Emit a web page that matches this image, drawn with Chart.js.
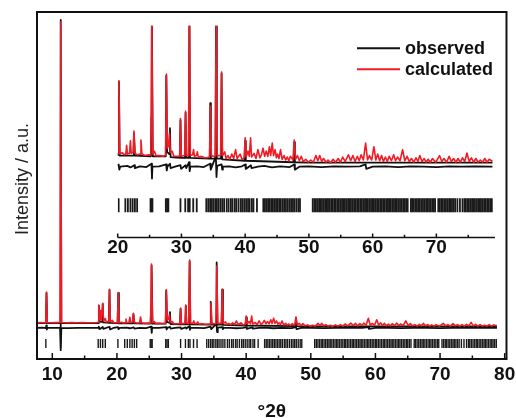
<!DOCTYPE html>
<html lang="en">
<head>
<meta charset="UTF-8">
<title>XRD pattern - observed / calculated</title>
<script src="https://cdn.jsdelivr.net/npm/chart.js"></script>
<style>
  body { margin: 0; background: #fff; }
  #wrap { position: relative; width: 516px; height: 418px; }
  #wrap canvas { position: absolute; left: 0; top: 0; }
</style>
</head>
<body>
<div id="wrap">
  <canvas id="mainChart" width="516" height="418"></canvas>
  <canvas id="insetChart" width="516" height="418"></canvas>
</div>
<script>
const FONT = '"Liberation Sans", Arial, sans-serif';

// tick labels
const mainTicks = [10, 20, 30, 40, 50, 60, 70, 80];
const mainMinor = [15, 25, 35, 45, 55, 65, 75];
const insetTicks = [20, 30, 40, 50, 60, 70];
const insetMinor = [25, 35, 45, 55, 65, 75];

// calculated pattern [2theta, intensity]
const calculated = [
  [7.63,1.2],[8.2,1.3],[8.6,1.2],[8.98,1.25],[9.1,11.3],[9.22,1.3],[9.8,1.2],[10.5,1.25],
  [11.18,1.3],[11.3,100],[11.42,1.3],[12.2,1.2],[13,1.25],[13.8,1.2],[14.6,1.25],[15.4,1.2],[16.2,1.2],[16.9,1.3],
  [17.1,1.4],[17.2,7.0],[17.32,2.2],[17.45,5.2],[17.55,2.0],[17.8,7.6],[17.92,1.8],[18.2,2.6],[18.35,1.4],
  [18.6,1.6],[18.75,1.5],[18.85,12.2],[18.97,1.6],[19.3,2.0],[19.5,1.3],[19.9,1.2],[20.08,1.3],[20.2,11.1],
  [20.32,1.2],[20.7,1.4],[21.0,1.1],[21.28,1.2],[21.4,2.4],[21.52,1.2],[21.85,1.3],[22.0,3.0],[22.12,1.3],
  [22.4,1.4],[22.55,4.3],[22.7,1.3],[23.1,1.1],[23.5,1.2],[23.65,3.1],[23.8,1.2],[24.3,1.0],[24.8,1.1],
  [25.2,1.1],[25.35,20.5],[25.5,1.2],[25.75,1.6],[26.0,1.0],[26.6,1.0],[27.1,0.9],[27.5,1.0],[27.65,12.0],
  [27.8,2.0],[28.0,2.4],[28.12,4.0],[28.25,1.4],[28.55,1.6],[28.8,0.9],[29.3,0.9],[29.72,0.9],[29.85,6.0],
  [29.98,0.9],[30.5,1.0],[30.65,7.0],[30.78,1.0],[31.1,1.0],[31.25,21.8],[31.4,1.0],[31.75,1.1],[31.9,1.8],
  [32.05,0.9],[32.35,1.0],[32.5,1.5],[32.65,0.8],[33.2,0.9],[33.6,0.7],[34.0,0.7],[34.4,0.8],[34.55,7.7],
  [34.7,1.0],[35.0,0.9],[35.3,0.9],[35.45,19.8],[35.6,1.0],[36.15,1.0],[36.3,12.3],[36.45,1.0],[36.8,1.5],
  [37.0,0.6],[37.3,1.0],[37.6,0.5],[37.9,1.2],[38.2,0.6],[38.5,1.8],[38.75,0.6],[39.2,1.2],[39.5,0.5],
  [39.85,0.7],[40.0,3.4],[40.15,0.8],[40.45,1.6],[40.65,0.9],[40.85,3.4],[41.0,0.8],[41.4,1.3],[41.7,0.6],
  [42.0,1.8],[42.3,0.7],[42.55,1.1],[42.8,2.0],[43.05,0.9],[43.3,1.6],[43.55,0.9],[43.8,2.2],[44.0,1.0],
  [44.25,2.7],[44.45,1.0],[44.7,1.8],[44.9,0.7],[45.1,1.2],[45.3,0.6],[45.55,1.8],[45.8,0.5],[46.1,1.0],
  [46.35,0.4],[46.6,0.8],[46.85,0.3],[47.1,0.9],[47.5,0.4],[47.7,3.1],[47.9,0.5],[48.2,1.0],[48.5,0.3],
  [48.8,0.9],[49.1,0.2],[49.5,0.5],[49.9,0.1],[50.3,0.4],[50.7,0.1],[51.1,1.0],[51.4,0.3],[51.7,1.0],
  [52.0,0.2],[52.3,0.6],[52.7,0.1],[53.0,0.4],[53.4,0.0],[53.8,0.5],[54.2,0.1],[54.6,0.6],[54.95,0.1],
  [55.3,0.8],[55.7,0.2],[56.2,1.1],[56.55,0.3],[56.9,1.0],[57.25,0.2],[57.6,0.9],[57.9,0.3],[58.2,1.1],
  [58.55,0.4],[58.9,2.7],[59.2,0.4],[59.5,1.0],[59.85,0.4],[60.2,2.2],[60.5,0.4],[60.8,1.2],[61.1,0.3],
  [61.4,1.0],[61.7,0.2],[62.0,0.8],[62.3,0.2],[62.6,0.9],[62.95,0.3],[63.3,1.1],[63.6,0.3],[63.9,0.8],
  [64.3,0.3],[64.7,1.8],[65.05,0.3],[65.4,0.9],[65.75,0.2],[66.1,0.6],[66.45,0.1],[66.8,0.7],[67.1,0.2],
  [67.4,1.0],[67.75,0.2],[68.1,0.6],[68.4,0.1],[68.7,0.5],[69.05,0.1],[69.4,0.6],[69.9,0.1],[70.5,1.0],
  [70.85,0.2],[71.2,0.6],[71.6,0.1],[72.0,0.9],[72.35,0.2],[72.7,0.6],[73.05,0.1],[73.4,0.6],[73.75,0.1],
  [74.1,0.7],[74.45,0.2],[74.8,1.35],[75.15,0.2],[75.5,0.7],[75.85,0.1],[76.2,0.6],[76.55,0.1],[76.9,0.4],
  [77.25,0.1],[77.6,0.6],[77.95,0.1],[78.3,0.5],[78.8,0.2]
];

// observed pattern (mostly hidden under the calculated one)
const observed = [
  [7.63,1.1],[9.0,1.1],[9.1,11.0],[9.2,1.1],[11.2,1.1],[11.3,100.7],[11.4,1.1],[17.1,1.1],[17.2,6.8],[17.3,1.5],
  [17.7,1.5],[17.8,7.4],[17.9,1.3],[18.75,1.2],[18.85,12.0],[18.95,1.2],[20.1,1.1],[20.2,11.0],[20.3,1.0],
  [22.45,1.0],[22.55,4.0],[22.7,1.0],[25.2,0.9],[25.3,6.2],[25.36,20.0],[25.5,0.9],[27.55,0.9],[27.62,11.8],
  [27.75,1.5],[28.1,1.2],[28.2,4.7],[28.3,0.8],[29.75,0.7],[29.85,5.8],[29.95,0.7],[30.55,0.7],[30.65,6.8],
  [30.75,0.7],[31.15,0.7],[31.25,21.4],[31.35,0.7],[34.45,0.6],[34.52,8.1],[34.62,0.6],[35.35,0.6],[35.43,21.0],
  [35.55,0.6],[36.2,0.6],[36.3,12.1],[36.4,0.5],[39.9,0.3],[40.0,3.0],[40.1,0.3],[47.6,0.1],[47.7,2.8],[47.8,0.1],
  [50,0.05],[78.8,0.05]
];

// difference curve
const difference = [
  [7.63,-0.5],[8.5,-0.4],[9.0,-0.55],[9.08,0.3],[9.15,-1.0],[9.25,-0.5],[10.3,-0.45],[11.2,-0.5],[11.26,3.7],
  [11.33,-7.8],[11.4,-0.5],[12.5,-0.55],[14,-0.45],[15.5,-0.5],[17.1,-0.5],[17.2,-0.1],[17.3,-0.9],[17.8,-0.2],
  [17.9,-0.8],[18.85,-0.1],[18.95,-1.0],[19.5,-0.45],[20.15,-0.2],[20.25,-0.9],[20.4,-0.5],[21.5,-0.4],[22.0,-0.6],
  [22.6,-0.3],[22.7,-0.7],[23.5,-0.45],[24.5,-0.55],[25.3,-0.1],[25.38,-2.1],[25.45,-0.5],[26.5,-0.45],[27.6,-0.2],
  [27.7,-1.0],[27.8,-0.5],[28.2,-0.1],[28.3,-0.7],[29.0,-0.5],[29.85,-0.3],[29.95,-0.8],[30.65,-0.3],[30.75,-0.7],
  [31.2,0.1],[31.3,-1.1],[31.4,-0.5],[32.5,-0.45],[33.5,-0.55],[34.5,-0.1],[34.6,-0.9],[35.4,0.9],[35.5,-1.9],
  [35.6,-0.4],[36.3,-0.2],[36.4,-0.9],[36.5,-0.5],[37.5,-0.45],[38.5,-0.6],[39.5,-0.45],[40.0,-0.2],[40.1,-0.8],
  [40.9,-0.3],[41.0,-0.7],[42.0,-0.5],[43.0,-0.4],[44.2,-0.6],[45.5,-0.45],[47.0,-0.55],[47.7,-0.2],[47.8,-0.9],
  [48.5,-0.5],[50,-0.45],[52,-0.55],[54,-0.45],[56,-0.5],[58,-0.45],[58.9,-0.2],[59.0,-0.8],[60,-0.5],[62,-0.45],
  [64,-0.55],[66,-0.45],[68,-0.5],[70,-0.55],[72,-0.45],[74,-0.5],[76,-0.45],[78.8,-0.5]
];

// Bragg reflection positions (2theta)
const braggPositions = [
  9.0, 11.3, 17.1, 17.45, 17.8, 18.2, 20.15, 21.2, 21.6, 22.0, 22.35, 22.7, 23.05, 25.15, 25.3, 25.45,
  27.55, 27.75, 27.95, 29.85, 30.6, 31.05, 31.3, 31.85, 32.4, 33.9, 34.2, 34.5, 34.75, 35.0, 35.3, 35.55,
  35.8, 36.1, 36.4, 36.7, 37.1, 37.4, 37.75, 38.0, 38.35, 38.6, 38.95, 39.3, 39.55, 39.85, 40.15, 40.45,
  40.7, 41.05, 41.3, 41.85, 42.85, 43.1, 43.35, 43.6, 43.85, 44.1, 44.35, 44.6, 44.85, 45.1, 45.35, 45.6,
  45.9, 46.15, 46.4, 46.7, 47.0, 47.25, 47.5, 47.75, 48.05, 48.35, 48.6, 50.6, 50.85, 51.1, 51.35, 51.6,
  51.8, 52.05, 52.3, 52.55, 52.8, 53.0, 53.25, 53.5, 53.75, 54.0, 54.2, 54.45, 54.7, 54.95, 55.2, 55.4,
  55.65, 55.9, 56.15, 56.4, 56.6, 56.85, 57.1, 57.35, 57.6, 57.8, 58.05, 58.3, 58.55, 58.8, 59.0, 59.25,
  59.5, 59.75, 60.0, 60.2, 60.45, 60.7, 60.95, 61.2, 61.4, 61.65, 61.9, 62.15, 62.4, 62.6, 62.85, 63.1,
  63.35, 63.6, 63.8, 64.05, 64.3, 64.55, 64.8, 65.0, 65.25, 65.5, 66.0, 66.2, 66.45, 66.7, 66.95, 67.2,
  67.4, 67.65, 67.9, 68.15, 68.4, 68.6, 68.85, 69.1, 69.35, 69.6, 69.8, 70.3, 70.55, 70.8, 71.0, 71.25,
  71.5, 71.75, 72.0, 72.2, 72.45, 72.7, 72.95, 73.3, 73.7, 74.1, 74.4, 74.6, 74.85, 75.1, 75.35, 75.6,
  75.8, 76.05, 76.3, 76.55, 76.8, 77.0, 77.25, 77.5, 77.75, 78.0, 78.2, 78.45, 78.7
];

const BLACK = '#111111';
const RED = '#ee1c25';

const xy = pts => pts.map(([x, y]) => ({x, y}));

function buildDatasets(tickLevel, tickRadius, tickWidth) {
  return [
    { label: 'calculated', data: xy(calculated), showLine: true, borderColor: RED, borderWidth: 1.6,
      pointRadius: 0, borderJoinStyle: 'round', order: 0 },
    { label: 'observed', data: xy(observed), showLine: true, borderColor: BLACK, borderWidth: 1.8,
      pointRadius: 0, borderJoinStyle: 'round', order: 1 },
    { label: 'difference', data: xy(difference), showLine: true, borderColor: BLACK, borderWidth: 1.8,
      pointRadius: 0, borderJoinStyle: 'round', order: 2 },
    { label: 'bragg', data: braggPositions.map(v => ({x: v, y: tickLevel})), showLine: false,
      pointStyle: 'line', rotation: 90, pointRadius: tickRadius, pointBorderWidth: tickWidth,
      pointBorderColor: '#1a1a1a', order: 3 }
  ];
}

// axis frame + inward tick marks
const framePlugin = {
  id: 'frame',
  afterDatasetsDraw(chart, args, opts) {
    const {ctx, chartArea: a, scales: {x}} = chart;
    ctx.save();
    ctx.strokeStyle = BLACK;
    ctx.lineWidth = opts.lineWidth;
    if (opts.box) {
      ctx.strokeRect(a.left, a.top, a.right - a.left, a.bottom - a.top);
    } else {
      ctx.beginPath();
      ctx.moveTo(a.left, a.bottom);
      ctx.lineTo(a.right, a.bottom);
      ctx.stroke();
    }
    ctx.lineWidth = 1.5;
    ctx.beginPath();
    opts.major.forEach(v => {
      const px = x.getPixelForValue(v);
      ctx.moveTo(px, a.bottom);
      ctx.lineTo(px, a.bottom - opts.majorLen);
    });
    opts.minor.forEach(v => {
      const px = x.getPixelForValue(v);
      ctx.moveTo(px, a.bottom);
      ctx.lineTo(px, a.bottom - opts.minorLen);
    });
    ctx.stroke();
    if (opts.yTitle) {
      ctx.translate(23, 179);
      ctx.rotate(-Math.PI / 2);
      ctx.font = '18px ' + FONT;
      ctx.fillStyle = '#222';
      ctx.textAlign = 'center';
      ctx.textBaseline = 'middle';
      ctx.fillText(opts.yTitle, 0, 0);
    }
    ctx.restore();
  }
};

// legend placed inside the inset
const legendPlugin = {
  id: 'insetLegend',
  afterDraw(chart, args, opts) {
    const ctx = chart.ctx;
    ctx.save();
    ctx.font = 'bold 18px ' + FONT;
    ctx.textBaseline = 'alphabetic';
    const items = chart.data.datasets.filter(d => opts.labels.includes(d.label))
      .sort((a, b) => opts.labels.indexOf(a.label) - opts.labels.indexOf(b.label));
    items.forEach((d, i) => {
      const y = opts.y + i * opts.gap;
      ctx.strokeStyle = d.borderColor;
      ctx.lineWidth = 2;
      ctx.beginPath();
      ctx.moveTo(opts.x, y);
      ctx.lineTo(opts.x + opts.len, y);
      ctx.stroke();
      ctx.fillStyle = BLACK;
      ctx.fillText(d.label, opts.x + opts.len + 5, y + 6);
    });
    ctx.restore();
  }
};

const tickFont = {family: FONT, size: 19, weight: 'bold', lineHeight: 1};

// keep tick labels from squeezing the plot area
const fixHeight = h => s => { s.height = h; s.paddingLeft = 0; s.paddingRight = 0; };

new Chart(document.getElementById('mainChart'), {
  type: 'scatter',
  data: {datasets: buildDatasets(-5.6, 4.5, 1.4)},
  options: {
    responsive: false,
    animation: false,
    events: [],
    layout: {padding: {left: 37, right: 9.5, top: 12, bottom: 0}},
    plugins: {
      legend: {display: false},
      tooltip: {enabled: false},
      frame: {box: true, lineWidth: 2, major: mainTicks, minor: mainMinor, majorLen: 6, minorLen: 3.5,
              yTitle: 'Intensity / a.u.'}
    },
    scales: {
      x: {
        type: 'linear', min: 7.63, max: 80.28,
        grid: {display: false, drawTicks: false}, border: {display: false},
        ticks: {font: tickFont, color: BLACK, padding: 6.5, maxRotation: 0},
        afterBuildTicks: s => { s.ticks = mainTicks.map(v => ({value: v})); },
        afterFit: fixHeight(59),
        title: {display: true, text: '°2θ', color: BLACK, padding: 0,
                font: {family: FONT, size: 19, weight: 'bold', lineHeight: 0.7}}
      },
      y: {display: false, min: -10.7, max: 103.3}
    }
  },
  plugins: [framePlugin]
});

new Chart(document.getElementById('insetChart'), {
  type: 'scatter',
  data: {datasets: buildDatasets(-5.7, 7, 1.8)},
  options: {
    responsive: false,
    animation: false,
    events: [],
    layout: {padding: {left: 117.7, right: 21, top: 25.7, bottom: 0}},
    plugins: {
      legend: {display: false},
      tooltip: {enabled: false},
      frame: {box: false, lineWidth: 1.5, major: insetTicks, minor: insetMinor, majorLen: 4, minorLen: 2.7},
      insetLegend: {labels: ['observed', 'calculated'], x: 357, y: 48.3, gap: 21, len: 43}
    },
    scales: {
      x: {
        type: 'linear', min: 20, max: 79.2,
        grid: {display: false, drawTicks: false}, border: {display: false},
        ticks: {font: tickFont, color: BLACK, padding: 1, maxRotation: 0},
        afterBuildTicks: s => { s.ticks = insetTicks.map(v => ({value: v})); },
        afterFit: fixHeight(180.5)
      },
      y: {display: false, min: -10.07, max: 18.55}
    }
  },
  plugins: [framePlugin, legendPlugin]
});
</script>
</body>
</html>
